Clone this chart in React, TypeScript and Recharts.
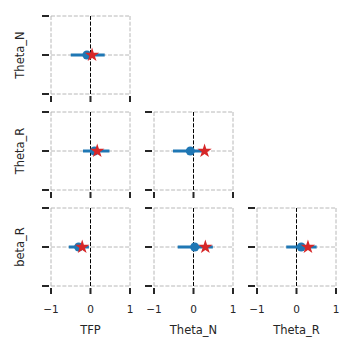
import {
  CartesianGrid,
  ErrorBar,
  ReferenceLine,
  Scatter,
  ScatterChart,
  XAxis,
  YAxis,
  ZAxis,
} from "recharts"

const xLabels = ["TFP", "Theta_N", "Theta_R"]
const yLabels = ["Theta_N", "Theta_R", "beta_R"]
const ticks = [-1, 0, 1]
const tickText = ["\u22121", "0", "1"]

// one entry per panel of the lower triangle
const panelRow = [0, 1, 1, 2, 2, 2]
const panelCol = [0, 0, 1, 0, 1, 2]
const estimate = [-0.09, 0.1, -0.08, -0.3, 0.03, 0.12]
const lower = [-0.5, -0.19, -0.52, -0.55, -0.4, -0.26]
const upper = [0.36, 0.48, 0.3, -0.04, 0.49, 0.51]
const truth = [0.04, 0.17, 0.28, -0.21, 0.3, 0.29]

const colLeft = [51, 154, 257]
const rowTop = [16, 112, 208]
const plotW = 79
const plotH = 78
const yAxisW = 44
const pad = 4

const ink = "#262626"
const font = "DejaVu Sans"

function XTick({ x, y, payload, showLabel }: any) {
  const i = ticks.indexOf(payload.value)
  return (
    <g>
      <line x1={x} x2={x} y1={y + 2} y2={y + 8} stroke={ink} strokeWidth={2} />
      {showLabel && (
        <text
          x={x}
          y={y + 23}
          textAnchor="middle"
          dominantBaseline="central"
          fontSize={10.5}
          fontFamily={font}
          fill={ink}
        >
          {tickText[i]}
        </text>
      )}
    </g>
  )
}

function YTick({ x, y }: any) {
  return <line x1={x - 9} x2={x - 2} y1={y} y2={y} stroke={ink} strokeWidth={2} />
}

function Panel({ idx }: { idx: number }) {
  const row = panelRow[idx]
  const col = panelCol[idx]
  const bottom = row === 2
  const xAxisH = bottom ? 52 : 12
  const dot = [
    {
      x: estimate[idx],
      y: 0,
      err: [estimate[idx] - lower[idx], upper[idx] - estimate[idx]],
    },
  ]
  const star = [{ x: truth[idx], y: 0 }]

  return (
    <div
      style={{
        position: "absolute",
        left: colLeft[col] - yAxisW,
        top: rowTop[row] - pad,
      }}
    >
      <ScatterChart
        width={yAxisW + plotW + pad}
        height={pad + plotH + xAxisH}
        margin={{ top: pad, right: pad, left: 0, bottom: 0 }}
      >
        <CartesianGrid stroke="#b0b0b0" strokeWidth={0.9} strokeDasharray="4 1.7" />
        <XAxis
          type="number"
          dataKey="x"
          domain={[-1, 1]}
          ticks={ticks}
          interval={0}
          height={xAxisH}
          axisLine={false}
          tickLine={false}
          tickSize={0}
          tickMargin={0}
          allowDataOverflow
          tick={<XTick showLabel={bottom} />}
          label={
            bottom
              ? {
                  value: xLabels[col],
                  content: ({ viewBox }: any) => (
                    <text
                      x={viewBox.x + viewBox.width / 2}
                      y={viewBox.y + 44}
                      textAnchor="middle"
                      dominantBaseline="central"
                      fontSize={11.5}
                      fontFamily={font}
                      fill={ink}
                    >
                      {xLabels[col]}
                    </text>
                  ),
                }
              : undefined
          }
        />
        <YAxis
          type="number"
          dataKey="y"
          domain={[-1, 1]}
          ticks={ticks}
          interval={0}
          width={yAxisW}
          axisLine={false}
          tickLine={false}
          tickSize={0}
          tickMargin={0}
          allowDataOverflow
          tick={<YTick />}
          label={
            col === 0
              ? {
                  value: yLabels[row],
                  content: ({ viewBox }: any) => {
                    const cx = 20 - (colLeft[0] - yAxisW)
                    const cy = viewBox.y + viewBox.height / 2
                    return (
                      <text
                        x={cx}
                        y={cy}
                        transform={`rotate(-90 ${cx} ${cy})`}
                        textAnchor="middle"
                        dominantBaseline="central"
                        fontSize={11.5}
                        fontFamily={font}
                        fill={ink}
                      >
                        {yLabels[row]}
                      </text>
                    )
                  },
                }
              : undefined
          }
        />
        <ZAxis zAxisId="dot" range={[50, 50]} />
        <ZAxis zAxisId="star" range={[40, 40]} />
        <ReferenceLine x={0} stroke="#000" strokeWidth={1} strokeDasharray="4 1.7" />
        <Scatter data={dot} zAxisId="dot" fill="#1f77b4" isAnimationActive={false}>
          <ErrorBar
            dataKey="err"
            direction="x"
            width={0}
            stroke="#1f77b4"
            strokeWidth={3}
            isAnimationActive={false}
          />
        </Scatter>
        <Scatter
          data={star}
          zAxisId="star"
          shape="star"
          fill="#d62728"
          isAnimationActive={false}
        />
      </ScatterChart>
    </div>
  )
}

export default function App() {
  return (
    <div
      style={{
        position: "absolute",
        left: 0,
        top: 0,
        width: 354,
        height: 351,
        background: "#fff",
        fontFamily: font,
      }}
    >
      {panelRow.map((_, i) => (
        <Panel key={i} idx={i} />
      ))}
    </div>
  )
}
